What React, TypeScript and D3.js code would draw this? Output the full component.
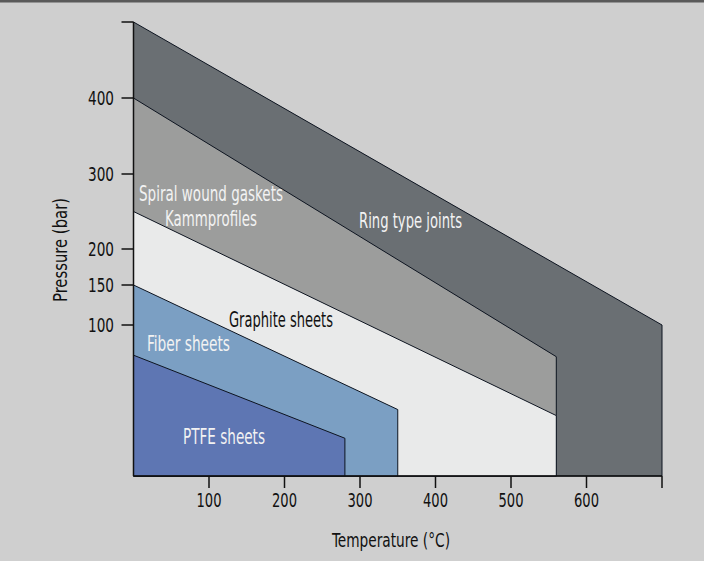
import React from "react";
import * as d3 from "d3";

// ---- data ----
const materials = ["Ring type joints", "Spiral wound gaskets", "Graphite sheets", "Fiber sheets", "PTFE sheets"];
const maxTemp = [700, 560, 560, 350, 280];
const pressureAtZero = [500, 400, 250, 150, 80];
const pressureAtMaxTemp = [100, 79, 40, 44, 25];
const fills = ["#6a6f73", "#9c9d9c", "#e9eaea", "#7b9fc3", "#5e76b3"];

const xTicks = [100, 200, 300, 400, 500, 600, 700];
const xTickLabels = ["100", "200", "300", "400", "500", "600", ""];
const yTicks = [100, 150, 200, 300, 400, 500];
const yTickLabels = ["100", "150", "200", "300", "400", ""];

const W = 704;
const H = 561;
const FONT = "'DejaVu Sans Condensed', 'Liberation Sans Narrow', 'DejaVu Sans', sans-serif";

export default function App() {
  const x = d3.scaleLinear().domain([0, 700]).range([133.5, 662]);
  // schematic (non-uniform) pressure axis: piecewise linear
  const y = d3
    .scaleLinear()
    .domain([0, 100, 150, 200, 300, 400, 500])
    .range([476, 325, 285, 249, 174, 98, 22]);

  const line = d3
    .line<[number, number]>()
    .x((d) => x(d[0]))
    .y((d) => y(d[1]));

  const polys = materials.map((m, i) => {
    const pts: [number, number][] = [
      [0, pressureAtZero[i]],
      [maxTemp[i], pressureAtMaxTemp[i]],
      [maxTemp[i], 0],
      [0, 0],
    ];
    return line(pts) + "Z";
  });

  const T = ({ size = 20, ...props }: any) => (
    <text
      lengthAdjust="spacingAndGlyphs"
      style={{ fontFamily: FONT, fontSize: size, fontStretch: "condensed" }}
      {...props}
    />
  );

  return (
    <svg
      width={W}
      height={H}
      style={{ position: "absolute", left: 0, top: 0, display: "block" }}
    >
      <rect x={0} y={0} width={W} height={H} fill="#cfcfcf" />
      <rect x={0} y={0} width={W} height={2.5} fill="#5a5a5a" />

      {polys.map((p, i) => (
        <path key={materials[i]} d={p} fill={fills[i]} stroke="#0d1420" strokeWidth={1} />
      ))}

      {/* region labels */}
      <g textAnchor="middle">
        <T size={21} x={211} y={201} fill="#f2f2f2" textLength={144}>Spiral wound gaskets</T>
        <T size={21} x={211} y={226} fill="#f2f2f2" textLength={92}>Kammprofiles</T>
        <T size={21} x={410.5} y={228} fill="#f2f2f2" textLength={103}>Ring type joints</T>
        <T size={21} x={281} y={327} fill="#111" textLength={104}>Graphite sheets</T>
        <T size={21} x={188.5} y={351} fill="#f2f2f2" textLength={83}>Fiber sheets</T>
        <T size={21} x={224} y={444} fill="#f2f2f2" textLength={82}>PTFE sheets</T>
      </g>

      {/* y axis */}
      <line x1={x(0)} x2={x(0)} y1={y(500)} y2={y(0)} stroke="#111" strokeWidth={1.5} />
      {yTicks.map((t, i) =>
        <g key={t}>
          <line x1={x(0) - 12} x2={x(0)} y1={y(t)} y2={y(t)} stroke="#111" strokeWidth={1.5} />
          {yTickLabels[i] && (
            <T x={114} y={y(t) + 7} textAnchor="end" fill="#111" textLength={26}>
              {yTickLabels[i]}
            </T>
          )}
        </g>
      )}

      {/* x axis */}
      <line x1={x(0)} x2={x(700)} y1={y(0)} y2={y(0)} stroke="#111" strokeWidth={1.5} />
      {xTicks.map((t, i) => (
        <g key={t}>
          <line x1={x(t)} x2={x(t)} y1={y(0)} y2={y(0) + 12} stroke="#111" strokeWidth={1.5} />
          {xTickLabels[i] && (
            <T x={x(t)} y={507} textAnchor="middle" fill="#111" textLength={25}>
              {xTickLabels[i]}
            </T>
          )}
        </g>
      ))}

      <T x={391} y={547} textAnchor="middle" fill="#111" textLength={118}>
        Temperature (°C)
      </T>
      <T
        transform={`translate(67, 250) rotate(-90)`}
        textAnchor="middle"
        fill="#111"
        textLength={104}
      >
        Pressure (bar)
      </T>
    </svg>
  );
}
